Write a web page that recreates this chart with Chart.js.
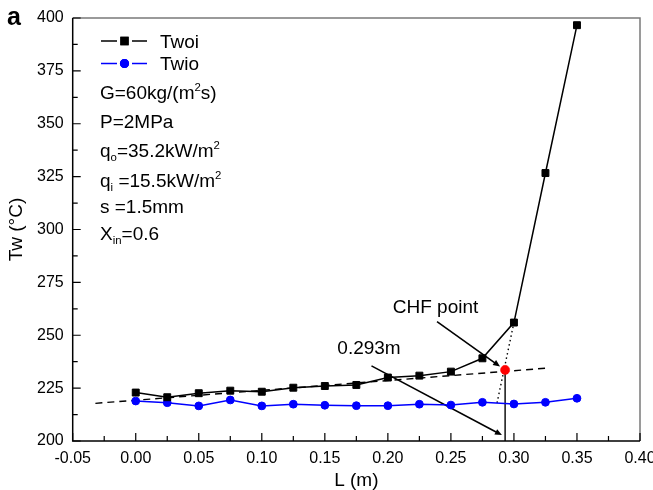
<!DOCTYPE html>
<html>
<head>
<meta charset="utf-8">
<script src="https://cdn.jsdelivr.net/npm/chart.js@4.4.1/dist/chart.umd.min.js"></script>
<style>
  html, body { margin: 0; padding: 0; background: #fff; }
  #wrap { width: 653px; height: 490px; }
</style>
</head>
<body>
<div id="wrap"><canvas id="chart" width="653" height="490"></canvas></div>
<script>
  'use strict';

  // wall temperatures along the tube
  var lengths = [0, 0.025, 0.05, 0.075, 0.10, 0.125, 0.15, 0.175, 0.20, 0.225, 0.25, 0.275, 0.30, 0.325, 0.35];
  var twoi = [222.9, 220.7, 222.6, 223.8, 223.3, 225.2, 226.0, 226.5, 230.0, 230.9, 232.8, 239.1, 256.0, 326.7, 396.6];
  var twio = [218.9, 218.1, 216.6, 219.4, 216.6, 217.4, 216.9, 216.7, 216.7, 217.4, 217.0, 218.3, 217.5, 218.3, 220.2];

  // CHF construction
  var chfX = [0.293];
  var chfY = [233.6];
  var fitLineX = [-0.032, 0.325];
  var fitLineY = [217.8, 234.4];
  var steepLineX = [0.2866, 0.30];
  var steepLineY = [218.0, 256.0];
  var dropLineX = [0.293, 0.293];
  var dropLineY = [233.6, 200];
  var chfArrowX = [0.239, 0.289];
  var chfArrowY = [256.4, 235.2];
  var lenArrowX = [0.187, 0.2905];
  var lenArrowY = [235.5, 202.8];

  var xMin = -0.05, xMax = 0.40, xStep = 0.05;
  var yMin = 200, yMax = 400, yStep = 25;

  var seriesNames = ['Twoi', 'Twio'];
  // parameter block, pieces: [text, '' | 'sub' | 'sup']
  var paramLines = [
    [['G=60kg/(m', ''], ['2', 'sup'], ['s)', '']],
    [['P=2MPa', '']],
    [['q', ''], ['o', 'sub'], ['=35.2kW/m', ''], ['2', 'sup']],
    [['q', ''], ['i', 'sub'], [' =15.5kW/m', ''], ['2', 'sup']],
    [['s =1.5mm', '']],
    [['X', ''], ['in', 'sub'], ['=0.6', '']]
  ];
  var chfLabel = 'CHF point';
  var lenLabel = '0.293m';

  var FONT = "'Liberation Sans', Arial, sans-serif";

  function pairs(xs, ys){
    return xs.map(function(x, i){ return {x: x, y: ys[i]}; });
  }

  function guide(data, dash){
    return {
      data: data,
      showLine: true,
      borderColor: '#000',
      borderWidth: 1.4,
      borderDash: dash,
      pointRadius: 0,
      order: 5
    };
  }

  function drawRich(ctx, x, baseline, parts, size){
    parts.forEach(function(p){
      var s = p[1] ? size * 0.6 : size;
      var dy = p[1] === 'sup' ? -size * 0.42 : (p[1] === 'sub' ? size * 0.22 : 0);
      ctx.font = s + 'px ' + FONT;
      ctx.fillText(p[0], x, baseline + dy);
      x += ctx.measureText(p[0]).width;
    });
  }

  function drawArrow(ctx, x1, y1, x2, y2){
    var ang = Math.atan2(y2 - y1, x2 - x1);
    var hl = 7, hw = 3;
    ctx.beginPath();
    ctx.moveTo(x1, y1);
    ctx.lineTo(x2 - Math.cos(ang) * hl * 0.8, y2 - Math.sin(ang) * hl * 0.8);
    ctx.stroke();
    ctx.beginPath();
    ctx.moveTo(x2, y2);
    ctx.lineTo(x2 - Math.cos(ang) * hl - Math.sin(ang) * hw, y2 - Math.sin(ang) * hl + Math.cos(ang) * hw);
    ctx.lineTo(x2 - Math.cos(ang) * hl + Math.sin(ang) * hw, y2 - Math.sin(ang) * hl - Math.cos(ang) * hw);
    ctx.closePath();
    ctx.fill();
  }

  var framePlugin = {
    id: 'frame',
    beforeDatasetsDraw: function(chart){
      var ctx = chart.ctx, a = chart.chartArea;
      var xs = chart.scales.x, ys = chart.scales.y;
      ctx.save();
      ctx.lineWidth = 1.5;
      ctx.strokeStyle = '#7a7a7a';
      ctx.beginPath();
      ctx.moveTo(a.left, a.top);
      ctx.lineTo(a.right, a.top);
      ctx.lineTo(a.right, a.bottom);
      ctx.stroke();
      ctx.strokeStyle = '#000';
      ctx.beginPath();
      ctx.moveTo(a.left, a.top);
      ctx.lineTo(a.left, a.bottom);
      ctx.lineTo(a.right, a.bottom);
      ctx.stroke();

      // inward ticks, minor ones halfway
      ctx.lineWidth = 1.2;
      ctx.beginPath();
      xs.ticks.forEach(function(t, i){
        var px = xs.getPixelForValue(t.value);
        ctx.moveTo(px, a.bottom);
        ctx.lineTo(px, a.bottom - 8);
        if (i < xs.ticks.length - 1){
          var mx = xs.getPixelForValue((t.value + xs.ticks[i + 1].value) / 2);
          ctx.moveTo(mx, a.bottom);
          ctx.lineTo(mx, a.bottom - 5);
        }
      });
      ys.ticks.forEach(function(t, i){
        var py = ys.getPixelForValue(t.value);
        ctx.moveTo(a.left, py);
        ctx.lineTo(a.left + 8, py);
        if (i < ys.ticks.length - 1){
          var my = ys.getPixelForValue((t.value + ys.ticks[i + 1].value) / 2);
          ctx.moveTo(a.left, my);
          ctx.lineTo(a.left + 5, my);
        }
      });
      ctx.stroke();

      // arrows
      ctx.strokeStyle = '#000';
      ctx.fillStyle = '#000';
      ctx.lineWidth = 1.6;
      drawArrow(ctx, xs.getPixelForValue(chfArrowX[0]), ys.getPixelForValue(chfArrowY[0]),
        xs.getPixelForValue(chfArrowX[1]), ys.getPixelForValue(chfArrowY[1]));
      drawArrow(ctx, xs.getPixelForValue(lenArrowX[0]), ys.getPixelForValue(lenArrowY[0]),
        xs.getPixelForValue(lenArrowX[1]), ys.getPixelForValue(lenArrowY[1]));
      ctx.restore();
    },
    afterDraw: function(chart){
      var ctx = chart.ctx;
      var ds = chart.data.datasets;
      ctx.save();
      ctx.textBaseline = 'alphabetic';
      ctx.fillStyle = '#000';
      ctx.font = 'bold 25px ' + FONT;
      ctx.fillText('a', 7, 25);

      // legend: line - marker - line
      [1, 2].forEach(function(di, row){
        var d = ds[di];
        var cy = 41 + row * 22.5;
        ctx.strokeStyle = d.borderColor;
        ctx.lineWidth = 1.4;
        ctx.beginPath();
        ctx.moveTo(101, cy); ctx.lineTo(117, cy);
        ctx.moveTo(132, cy); ctx.lineTo(147, cy);
        ctx.stroke();
        Chart.helpers.drawPoint(ctx, {
          pointStyle: d.pointStyle, radius: d.pointRadius, borderWidth: 1
        }, 124.5, cy);
        ctx.fillStyle = d.backgroundColor;
        ctx.strokeStyle = d.borderColor;
        ctx.fill();
        ctx.stroke();
        ctx.fillStyle = '#000';
        ctx.font = '19px ' + FONT;
        ctx.fillText(seriesNames[row], 160, cy + 6.8);
      });

      var baselines = [99.3, 128.3, 156.7, 186.7, 213.3, 240];
      paramLines.forEach(function(parts, i){
        drawRich(ctx, 100, baselines[i], parts, 19);
      });

      ctx.font = '19px ' + FONT;
      ctx.textAlign = 'center';
      ctx.textBaseline = 'middle';
      ctx.fillText(chfLabel, 435.5, 307.5);
      ctx.fillText(lenLabel, 369, 348.5);
      ctx.restore();
    }
  };

  var ctx = document.getElementById('chart').getContext('2d');
  var myChart = new Chart(ctx, {
    type: 'scatter',
    data: {
      datasets: [
        {
          data: pairs(chfX, chfY),
          pointRadius: 4.6,
          pointBackgroundColor: '#ff0000',
          pointBorderColor: '#ff0000',
          pointBorderWidth: 0.5,
          order: 0
        },
        {
          label: seriesNames[0],
          data: pairs(lengths, twoi),
          showLine: true,
          borderColor: '#000',
          backgroundColor: '#000',
          borderWidth: 1.5,
          pointStyle: 'rect',
          pointRadius: 4.9,
          pointBorderWidth: 1,
          order: 1
        },
        {
          label: seriesNames[1],
          data: pairs(lengths, twio),
          showLine: true,
          borderColor: '#0000ff',
          backgroundColor: '#0000ff',
          borderWidth: 1.5,
          pointStyle: 'circle',
          pointRadius: 3.9,
          pointBorderWidth: 1,
          order: 2
        },
        guide(pairs(fitLineX, fitLineY), [7, 5]),
        guide(pairs(steepLineX, steepLineY), [1.5, 3]),
        guide(pairs(dropLineX, dropLineY), [])
      ]
    },
    options: {
      responsive: false,
      animation: false,
      devicePixelRatio: 1,
      layout: { padding: { top: 18, right: 13, left: 0, bottom: 0 } },
      plugins: {
        legend: { display: false },
        tooltip: { enabled: false }
      },
      scales: {
        x: {
          type: 'linear',
          min: xMin,
          max: xMax,
          grid: { display: false, drawTicks: false },
          border: { display: false },
          ticks: {
            stepSize: xStep,
            padding: 8,
            color: '#000',
            font: { family: FONT, size: 16 },
            maxRotation: 0,
            callback: function(v){ return v.toFixed(2); }
          },
          title: {
            display: true,
            text: 'L (m)',
            color: '#000',
            font: { family: FONT, size: 19, lineHeight: 1 },
            padding: { top: 0, bottom: 0 }
          },
          afterFit: function(s){
            s.height = 49;
            s.paddingLeft = 0;
            s.paddingRight = 0;
          }
        },
        y: {
          min: yMin,
          max: yMax,
          grid: { display: false, drawTicks: false },
          border: { display: false },
          ticks: {
            stepSize: yStep,
            padding: 9,
            color: '#000',
            font: { family: FONT, size: 16 }
          },
          title: {
            display: true,
            text: 'Tw (°C)',
            color: '#000',
            font: { family: FONT, size: 19, lineHeight: 1.2 },
            padding: { top: 5, bottom: 4 }
          },
          afterFit: function(s){
            s.width = 72.7;
            s.paddingTop = 0;
            s.paddingBottom = 0;
          }
        }
      }
    },
    plugins: [framePlugin]
  });
</script>
</body>
</html>
